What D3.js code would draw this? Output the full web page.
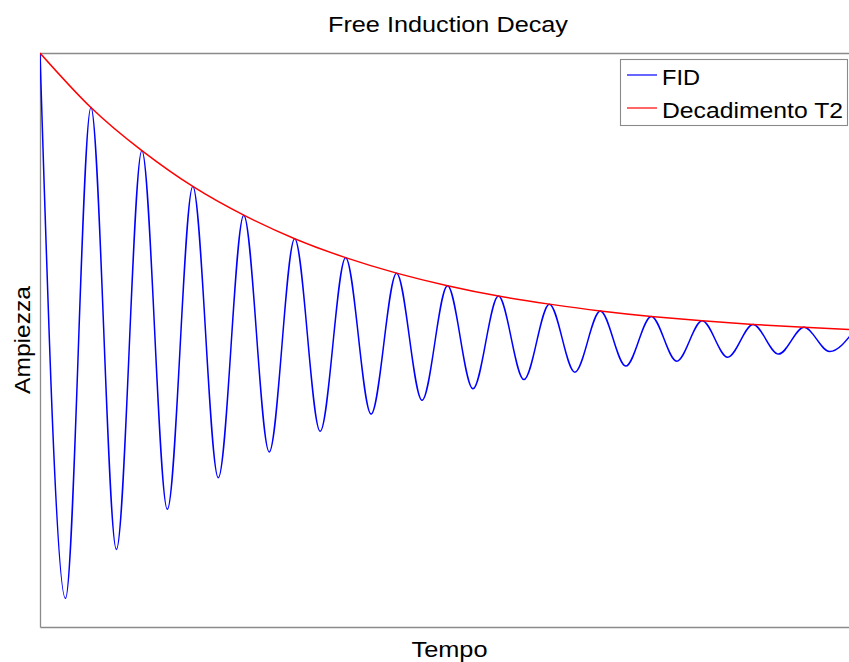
<!DOCTYPE html>
<html>
<head>
<meta charset="utf-8">
<script src="https://cdn.jsdelivr.net/npm/d3@7"></script>
<style>
  html, body { margin: 0; padding: 0; background: #fff; }
  svg { display: block; }
  text { font-family: "Liberation Sans", Arial, Helvetica, sans-serif; fill: #000; }
</style>
</head>
<body>
<svg id="chart" width="849" height="662"></svg>
<script>
// ---- Data (time normalised 0..1, amplitude -1..1) ----
const title = "Free Induction Decay";
const xLabel = "Tempo";
const yLabel = "Ampiezza";
const seriesNames = ["FID", "Decadimento T2"];

// FID extrema (peaks and troughs, alternating) and the final point
const fidTime = [0, 0.03125, 0.0625, 0.09375, 0.125, 0.15625, 0.1875, 0.21875, 0.25, 0.28125,
  0.3125, 0.34375, 0.375, 0.40625, 0.4375, 0.46875, 0.5, 0.53125, 0.5625, 0.59375,
  0.625, 0.65625, 0.6875, 0.71875, 0.75, 0.78125, 0.8125, 0.84375, 0.875, 0.90625,
  0.9375, 0.96875, 1.0];
const fidValue = [1.00, -0.90, 0.81, -0.73, 0.66, -0.59, 0.535, -0.48, 0.435, -0.39,
  0.353, -0.318, 0.287, -0.258, 0.233, -0.21, 0.189, -0.17, 0.153, -0.138,
  0.125, -0.112, 0.101, -0.091, 0.082, -0.074, 0.067, -0.06, 0.054, -0.049,
  0.044, -0.04, 0.036];

// T2 envelope, read at the peak times
const envTime = [0, 0.0625, 0.125, 0.1875, 0.25, 0.3125, 0.375, 0.4375, 0.5, 0.5625,
  0.625, 0.6875, 0.75, 0.8125, 0.875, 0.9375, 1.0];
const envValue = [1.00, 0.81, 0.66, 0.535, 0.435, 0.353, 0.287, 0.233, 0.189, 0.153,
  0.125, 0.101, 0.082, 0.067, 0.054, 0.044, 0.036];

(function () {
  const svg = d3.select("#chart");
  const pLeft = 40, pRight = 855, pTop = 53, pBottom = 627;

  const x = d3.scaleLinear().domain([0, 1]).range([pLeft, pRight]);
  const y = d3.scaleLinear().domain([-1, 1]).range([pBottom, pTop]);

  const fid = fidTime.map((t, i) => ({ t, v: fidValue[i] }));
  const env = envTime.map((t, i) => ({ t, v: envValue[i] }));

  svg.append("clipPath").attr("id", "plotclip")
    .append("rect").attr("x", pLeft).attr("y", pTop - 2)
    .attr("width", pRight - pLeft).attr("height", pBottom - pTop + 4);

  const axisColor = "#8a8a8a";
  const styleDomain = sel => sel.select(".domain").attr("stroke", axisColor).attr("stroke-width", 1.3);
  svg.append("g").attr("transform", `translate(0,${pTop})`)
    .call(d3.axisTop(x).tickValues([]).tickSizeOuter(0)).call(styleDomain);
  svg.append("g").attr("transform", `translate(0,${pBottom})`)
    .call(d3.axisBottom(x).tickValues([]).tickSizeOuter(0)).call(styleDomain);
  svg.append("g").attr("transform", `translate(${pLeft},0)`)
    .call(d3.axisLeft(y).tickValues([]).tickSizeOuter(0)).call(styleDomain);
  svg.append("g").attr("transform", `translate(${pRight},0)`)
    .call(d3.axisRight(y).tickValues([]).tickSizeOuter(0)).call(styleDomain);

  const g = svg.append("g").attr("clip-path", "url(#plotclip)");

  const line = d3.line().x(d => x(d.t)).y(d => y(d.v)).curve(d3.curveMonotoneX);
  const envLine = d3.line().x(d => x(d.t)).y(d => y(d.v)).curve(d3.curveNatural);

  g.append("path").datum(fid)
    .attr("d", line)
    .attr("fill", "none").attr("stroke", "#0000ff").attr("stroke-width", 1.5);
  g.append("path").datum(env)
    .attr("d", envLine)
    .attr("fill", "none").attr("stroke", "#ff0000").attr("stroke-width", 1.5);

  const stretch = (sel, len) => sel.attr("textLength", len).attr("lengthAdjust", "spacingAndGlyphs");

  svg.append("text").attr("x", 448).attr("y", 32)
    .attr("text-anchor", "middle").attr("font-size", 22).text(title).call(stretch, 240);
  svg.append("text").attr("x", 449.5).attr("y", 657)
    .attr("text-anchor", "middle").attr("font-size", 22).text(xLabel).call(stretch, 76);
  svg.append("text").attr("transform", `translate(30,${(pTop + pBottom) / 2}) rotate(-90)`)
    .attr("text-anchor", "middle").attr("font-size", 22).text(yLabel).call(stretch, 108);

  const lg = svg.append("g");
  lg.append("rect").attr("x", 620.5).attr("y", 59.5).attr("width", 227).attr("height", 66)
    .attr("fill", "#fff").attr("stroke", axisColor).attr("stroke-width", 1.1);
  const legColors = ["#0000ff", "#ff0000"];
  const legLens = [38, 181];
  seriesNames.forEach((name, i) => {
    const cy = 75 + i * 33;
    lg.append("line").attr("x1", 627).attr("x2", 657).attr("y1", cy).attr("y2", cy)
      .attr("stroke", legColors[i]).attr("stroke-width", 1.2);
    lg.append("text").attr("x", 662).attr("y", cy + 9.5).attr("font-size", 22).text(name)
      .call(stretch, legLens[i]);
  });
})();
</script>
</body>
</html>
